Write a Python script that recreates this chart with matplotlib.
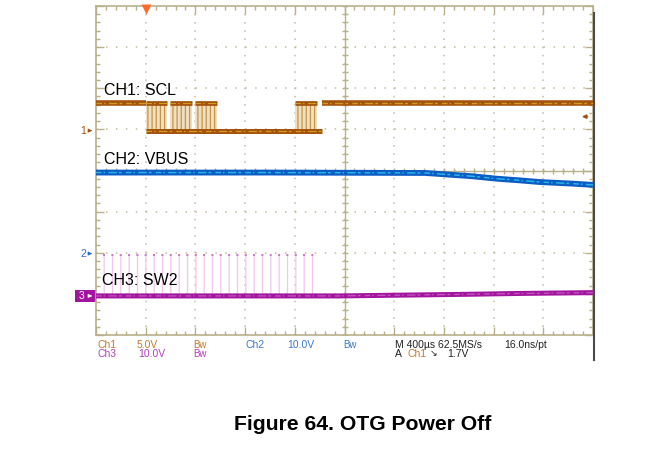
import matplotlib
matplotlib.use("Agg")
import matplotlib.pyplot as plt
import matplotlib.transforms as mtransforms
from matplotlib.lines import Line2D
from matplotlib.patches import Rectangle
import numpy as np

plt.rcParams["font.family"] = ["Liberation Sans", "DejaVu Sans"]
plt.rcParams["lines.scale_dashes"] = False
plt.rcParams["hatch.linewidth"] = 0.9

W, H = 671, 450

# scope settings (from the status line)
US_PER_DIV = 400
CH1_V_PER_DIV = 5.0
CH2_V_PER_DIV = 10.0
CH3_V_PER_DIV = 10.0
TRIG_LEVEL_V = 1.7
TRIG_T_US = 0

# channel ground markers, divisions from screen centre
CH1_POS = 0.97
CH2_POS = -2.02
CH3_POS = -3.05

# CH1 SCL
scl_high_v = 3.3
scl_low_v = 0.0
scl_high_spans_us = [(-400, 0), (1420, 3600)]
scl_low_span_us = (0, 1420)
scl_burst_start_us = [0, 192, 396, 1200]
scl_burst_end_us = [168, 372, 572, 1380]

# CH2 VBUS
vbus_t_us = [-400, 1000, 2250, 2630, 2830, 3010, 3170, 3440, 3600]
vbus_v = [19.7, 19.7, 19.6, 18.8, 18.2, 17.8, 17.4, 17.0, 16.7]

# CH3 SW2
sw2_t_us = [-400, 1560, 2600, 3000, 3600]
sw2_v = [0.0, 0.0, 0.4, 0.6, 0.8]
sw2_pulse_span_us = (-344, 1364)
sw2_pulse_v = 10.0

GRAT = "#b9b08c"
GRAT_DOT = "#c4bc9c"
CH1_COL = "#a4520c"
CH1_ACC = "#d6aa24"
CH2_COL = "#0b5cc4"
CH2_ACC = "#2cc8ea"
CH3_COL = "#a3159f"
CH3_ACC = "#c468c4"


def div(v, vpd, pos):
    return np.asarray(v, dtype=float) / vpd + pos


def trace(ax, x, y, base, accent, lw=4.0):
    ax.plot(x, y, color=base, lw=lw, solid_capstyle="butt", zorder=4)
    ax.plot(x, y, color=accent, lw=lw * 0.25, ls=(0, (4, 1.5, 1, 2.5, 6, 1.5, 2, 3)),
            alpha=0.85, zorder=5)


def px(x, y):
    return x / W, 1 - y / H


fig = plt.figure(figsize=(W / 100, H / 100), dpi=100)
ax = fig.add_axes([96 / W, 1 - 335 / H, 497 / W, 329 / H])
x0, x1 = -US_PER_DIV, 9 * US_PER_DIV
ax.set_xlim(x0, x1)
ax.set_ylim(-4, 4)

# graticule
ax.set_xticks(np.arange(x0, x1 + 1, US_PER_DIV))
ax.set_xticks(np.arange(x0, x1 + 1, US_PER_DIV / 5), minor=True)
ax.set_yticks(np.arange(-4, 5, 1))
ax.set_yticks(np.arange(-4, 4.01, 0.2), minor=True)
ax.tick_params(which="both", direction="in", top=True, right=True, color=GRAT,
               width=1, labelbottom=False, labelleft=False)
ax.tick_params(which="major", length=6)
ax.tick_params(which="minor", length=3)
for s in ax.spines.values():
    s.set_color(GRAT)
    s.set_linewidth(1.2)
ax.xaxis.grid(True, which="major", color=GRAT_DOT, lw=1.1, ls=(0, (1.1, 4.8)))
ax.yaxis.grid(True, which="major", color=GRAT_DOT, lw=1.1, ls=(0, (1.1, 6.06)))
ax.set_axisbelow(True)

xc = x0 + 5 * US_PER_DIV
ax.axhline(0, color=GRAT, lw=1, zorder=1)
ax.axvline(xc, color=GRAT, lw=1, zorder=1)
xm = np.arange(x0, x1 + 1, US_PER_DIV / 5)
ym = np.arange(-4, 4.01, 0.2)
ax.plot(xm, np.zeros_like(xm), ls="none", marker="|", ms=4.5, mew=1, color=GRAT, zorder=1)
ax.plot(np.full_like(ym, xc), ym, ls="none", marker="_", ms=4.5, mew=1, color=GRAT, zorder=1)

# CH3 SW2 switching pulses
p_lo = div(0, CH3_V_PER_DIV, CH3_POS)
p_hi = div(sw2_pulse_v, CH3_V_PER_DIV, CH3_POS)
ax.fill_between(sw2_pulse_span_us, p_lo, p_hi, facecolor="none",
                edgecolor="#f2c6ee", hatch="||", linewidth=0, zorder=2)
ax.plot(sw2_pulse_span_us, [p_hi, p_hi], color=CH3_ACC, lw=1.2,
        ls=(0, (1.5, 4.5)), zorder=3)
trace(ax, sw2_t_us, div(sw2_v, CH3_V_PER_DIV, CH3_POS), CH3_COL, CH3_ACC, 3.6)

# CH1 SCL
hi = div(scl_high_v, CH1_V_PER_DIV, CH1_POS)
lo = div(scl_low_v, CH1_V_PER_DIV, CH1_POS)
for a, b in zip(scl_burst_start_us, scl_burst_end_us):
    ax.fill_between([a, b], lo, hi, facecolor="#f0e0c2", edgecolor="#c49448",
                    hatch="||||", linewidth=0, zorder=3)
    trace(ax, [a, b], [hi, hi], CH1_COL, CH1_ACC, 3.4)
for a, b in scl_high_spans_us:
    trace(ax, [a, b], [hi, hi], CH1_COL, CH1_ACC, 4.0)
trace(ax, scl_low_span_us, [lo, lo], CH1_COL, CH1_ACC, 3.6)

# CH2 VBUS
trace(ax, vbus_t_us, div(vbus_v, CH2_V_PER_DIV, CH2_POS), CH2_COL, CH2_ACC, 4.2)

# channel labels
ax.text(-336, 1.95, "CH1: SCL", fontsize=11.5, va="center", zorder=6)
ax.text(-336, 0.27, "CH2: VBUS", fontsize=11.5, va="center", zorder=6)
ax.text(-352, -2.68, "CH3: SW2", fontsize=11.5, va="center", zorder=6)

# ground markers on the left edge
blend = mtransforms.blended_transform_factory(ax.transAxes, ax.transData)
for lab, pos, col in [("1", CH1_POS, CH1_COL), ("2", CH2_POS, "#2a6cd0")]:
    ax.text(-0.026, pos, lab, transform=blend, color=col, fontsize=7.5,
            ha="center", va="center", clip_on=False)
    ax.annotate("", xy=(-0.002, pos), xycoords=blend, xytext=(-0.018, pos),
                textcoords=blend, arrowprops=dict(arrowstyle="-|>", color=col,
                                                  lw=0.8, mutation_scale=5))
ax.add_patch(Rectangle((-0.043, CH3_POS - 0.15), 0.043, 0.3, transform=blend,
                       facecolor=CH3_COL, edgecolor="none", clip_on=False))
ax.text(-0.03, CH3_POS, "3", transform=blend, color="white", fontsize=7.5,
        ha="center", va="center", clip_on=False)
ax.annotate("", xy=(-0.002, CH3_POS), xycoords=blend, xytext=(-0.018, CH3_POS),
            textcoords=blend, arrowprops=dict(arrowstyle="-|>", color="white",
                                              lw=0.8, mutation_scale=5))

# trigger position and level markers
ax.plot([TRIG_T_US], [3.93], marker="v", ms=7, color="#ff6a2a", mec="none",
        clip_on=False, zorder=6)
trig_div = div(TRIG_LEVEL_V, CH1_V_PER_DIV, CH1_POS)
ax.annotate("", xy=(0.972, trig_div), xycoords=blend, xytext=(0.995, trig_div),
            textcoords=blend, arrowprops=dict(arrowstyle="-|>", color=CH1_COL,
                                              lw=1.0, mutation_scale=6))

# screen border on the right
fig.add_artist(Line2D([593.5 / W] * 2, [1 - 13 / H, 1 - 360 / H], color="#4a4a4a", lw=1.5))

# status line
status = [
    ("Ch1", 97, 345, "#c07a30", 7.5), ("5.0V", 137, 345, "#c07a30", 7.5),
    ("Bw", 193, 345, "#c07a30", 7), ("Ch2", 246, 345, "#3a78d0", 7.5),
    ("10.0V", 287, 345, "#3a78d0", 7.5), ("Bw", 343, 345, "#3a78d0", 7),
    ("M 400\u00b5s 62.5MS/s", 395, 345, "#222222", 7.5),
    ("16.0ns/pt", 504, 345, "#222222", 7.5),
    ("Ch3", 97, 354, "#b040b8", 7.5), ("10.0V", 138, 354, "#b040b8", 7.5),
    ("Bw", 193, 354, "#b040b8", 7), ("A", 395, 354, "#222222", 7.5),
    ("Ch1", 407, 354, "#c07a30", 7.5), ("\u2198", 430, 354, "#222222", 6.5),
    ("1.7V", 447, 354, "#222222", 7.5),
]
for txt, x, y, col, fs in status:
    fig.text(*px(x, y), txt, color=col, fontsize=fs, ha="left", va="center")

fig.text(*px(363, 424), "Figure 64. OTG Power Off", ha="center", va="center",
         fontsize=15.2, fontweight="bold")

fig.savefig("out.png", dpi=100)
